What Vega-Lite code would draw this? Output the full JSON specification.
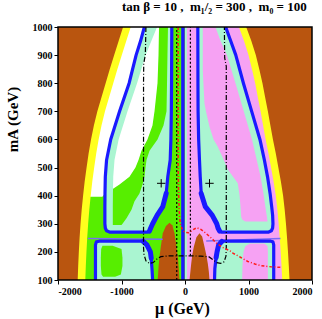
{
  "$schema": "https://vega.github.io/schema/vega-lite/v6.json",
  "width": 254,
  "height": 253,
  "autosize": {"type": "none"},
  "padding": {"left": 58, "top": 27, "right": 10, "bottom": 39},
  "background": "white",
  "title": {"text": "tan β = 10 ,\u00a0 m₁/₂ = 300 ,\u00a0 m₀ = 100", "anchor": "end", "font": "Liberation Serif", "fontSize": 13, "fontWeight": "bold", "color": "black", "offset": 8, "dx": -6},
  "config": {
    "view": {"stroke": null, "fill": "#aaf5d1"},
    "axis": {"labelFont": "Liberation Serif", "labelFontWeight": "bold", "labelFontSize": 10, "labelColor": "black", "titleFont": "Liberation Serif", "titleFontWeight": "bold", "titleColor": "black", "grid": false, "domain": false, "tickColor": "black", "tickSize": 4, "labelPadding": 2, "zindex": 1, "labelOverlap": false},
    "axisY": {"labelOverlap": false},
    "axisLeft": {"labelOverlap": false}
  },
  "encoding": {
    "y": {"field": "mA", "type": "quantitative", "scale": {"domain": [100, 1000], "nice": false, "zero": false}, "axis": {"title": "mA (GeV)", "values": [100, 200, 300, 400, 500, 600, 700, 800, 900, 1000], "labelExpr": "'' + datum.value", "labelOverlap": false, "titleFontSize": 15, "titleAngle": 270, "titleX": -46, "titleY": 92, "titleAlign": "center", "titleBaseline": "middle"}},
    "x": {"field": "a", "type": "quantitative", "scale": {"domain": [-2000, 2000], "nice": false, "zero": false}, "axis": {"title": "μ (GeV)", "values": [-2000, -1000, 0, 1000, 2000], "labelExpr": "'' + datum.value", "labelOverlap": false, "titleFontSize": 16, "titleX": 124, "titleY": 33, "titleAlign": "center", "titleBaseline": "alphabetic"}}
  },
  "layer": [
    {
      "data": {"values": [{"id": "g", "mA": 100, "a": -2000, "b": -50}, {"id": "g", "mA": 1000, "a": -2000, "b": -50}]},
      "mark": {"type": "area", "orient": "horizontal", "color": "#57ee00", "opacity": 1, "clip": true},
      "encoding": {"x2": {"field": "b"}, "detail": {"field": "id"}}
    },
    {
      "data": {"values": [{"id": "p", "mA": 100, "a": 30, "b": 2000}, {"id": "p", "mA": 1000, "a": 30, "b": 2000}]},
      "mark": {"type": "area", "orient": "horizontal", "color": "#f6a2f3", "opacity": 1, "clip": true},
      "encoding": {"x2": {"field": "b"}, "detail": {"field": "id"}}
    },
    {
      "data": {"values": [
        {"id": "UL", "mA": 1000, "a": -640, "b": -208}, {"id": "UL", "mA": 950, "a": -700, "b": -209}, {"id": "UL", "mA": 900, "a": -770, "b": -210}, {"id": "UL", "mA": 800, "a": -880, "b": -212}, {"id": "UL", "mA": 700, "a": -1030, "b": -215}, {"id": "UL", "mA": 600, "a": -1170, "b": -222}, {"id": "UL", "mA": 527, "a": -1235, "b": -233}, {"id": "UL", "mA": 467, "a": -1255, "b": -271}, {"id": "UL", "mA": 408, "a": -1260, "b": -296}, {"id": "UL", "mA": 361, "a": -1262, "b": -350}, {"id": "UL", "mA": 330, "a": -1262, "b": -440}, {"id": "UL", "mA": 300, "a": -1262, "b": -510}, {"id": "UL", "mA": 285, "a": -1255, "b": -540}, {"id": "UL", "mA": 275, "a": -1235, "b": -555}, {"id": "UL", "mA": 270, "a": -1180, "b": -580},
        {"id": "UR", "mA": 1000, "a": 202, "b": 640}, {"id": "UR", "mA": 950, "a": 203, "b": 720}, {"id": "UR", "mA": 900, "a": 203, "b": 800}, {"id": "UR", "mA": 800, "a": 204, "b": 920}, {"id": "UR", "mA": 700, "a": 206, "b": 1050}, {"id": "UR", "mA": 600, "a": 215, "b": 1180}, {"id": "UR", "mA": 527, "a": 228, "b": 1250}, {"id": "UR", "mA": 467, "a": 240, "b": 1300}, {"id": "UR", "mA": 408, "a": 255, "b": 1340}, {"id": "UR", "mA": 361, "a": 320, "b": 1365}, {"id": "UR", "mA": 330, "a": 430, "b": 1380}, {"id": "UR", "mA": 300, "a": 500, "b": 1385}, {"id": "UR", "mA": 285, "a": 520, "b": 1380}, {"id": "UR", "mA": 275, "a": 535, "b": 1360}, {"id": "UR", "mA": 270, "a": 560, "b": 1310},
        {"id": "LL", "mA": 238, "a": -1350, "b": -700}, {"id": "LL", "mA": 236, "a": -1395, "b": -640}, {"id": "LL", "mA": 225, "a": -1410, "b": -600}, {"id": "LL", "mA": 200, "a": -1410, "b": -545}, {"id": "LL", "mA": 178, "a": -1410, "b": -532}, {"id": "LL", "mA": 140, "a": -1410, "b": -520}, {"id": "LL", "mA": 100, "a": -1410, "b": -510},
        {"id": "LR", "mA": 238, "a": 600, "b": 1350}, {"id": "LR", "mA": 236, "a": 560, "b": 1385}, {"id": "LR", "mA": 225, "a": 530, "b": 1397}, {"id": "LR", "mA": 200, "a": 505, "b": 1397}, {"id": "LR", "mA": 180, "a": 490, "b": 1397}, {"id": "LR", "mA": 140, "a": 470, "b": 1397}, {"id": "LR", "mA": 100, "a": 465, "b": 1397}
      ]},
      "mark": {"type": "area", "orient": "horizontal", "color": "#aaf5d1", "opacity": 1, "clip": true},
      "encoding": {"x2": {"field": "b"}, "detail": {"field": "id"}}
    },
    {
      "data": {"values": [
        {"id": "w", "mA": 1000, "a": -2000, "b": -402}, {"id": "w", "mA": 900, "a": -2000, "b": -409}, {"id": "w", "mA": 800, "a": -2000, "b": -425}, {"id": "w", "mA": 700, "a": -2000, "b": -472}, {"id": "w", "mA": 650, "a": -2000, "b": -504}, {"id": "w", "mA": 600, "a": -2000, "b": -583}, {"id": "w", "mA": 560, "a": -2000, "b": -677}, {"id": "w", "mA": 527, "a": -2000, "b": -724}, {"id": "w", "mA": 500, "a": -2000, "b": -772}, {"id": "w", "mA": 467, "a": -2000, "b": -866}, {"id": "w", "mA": 440, "a": -2000, "b": -1024}, {"id": "w", "mA": 410, "a": -2000, "b": -1236}, {"id": "w", "mA": 400, "a": -2000, "b": -1290}, {"id": "w", "mA": 396, "a": -2000, "b": -1300}
      ]},
      "mark": {"type": "area", "orient": "horizontal", "color": "#ffffff", "opacity": 1, "clip": true},
      "encoding": {"x2": {"field": "b"}, "detail": {"field": "id"}}
    },
    {
      "data": {"values": [
        {"id": "L1", "mA": 1000, "a": -409, "b": -268}, {"id": "L1", "mA": 900, "a": -417, "b": -276}, {"id": "L1", "mA": 800, "a": -433, "b": -283}, {"id": "L1", "mA": 700, "a": -480, "b": -291}, {"id": "L1", "mA": 650, "a": -512, "b": -339}, {"id": "L1", "mA": 600, "a": -591, "b": -433}, {"id": "L1", "mA": 560, "a": -685, "b": -559}, {"id": "L1", "mA": 527, "a": -732, "b": -606}, {"id": "L1", "mA": 500, "a": -780, "b": -622}, {"id": "L1", "mA": 467, "a": -874, "b": -638}, {"id": "L1", "mA": 440, "a": -1031, "b": -669}, {"id": "L1", "mA": 408, "a": -1241, "b": -717}, {"id": "L1", "mA": 380, "a": -1252, "b": -795}, {"id": "L1", "mA": 350, "a": -1252, "b": -843}, {"id": "L1", "mA": 320, "a": -1252, "b": -921}, {"id": "L1", "mA": 300, "a": -1252, "b": -984}, {"id": "L1", "mA": 296, "a": -1250, "b": -1000},
        {"id": "L2", "mA": 222, "a": -1300, "b": -1140}, {"id": "L2", "mA": 210, "a": -1320, "b": -1000}, {"id": "L2", "mA": 180, "a": -1325, "b": -985}, {"id": "L2", "mA": 150, "a": -1325, "b": -985}, {"id": "L2", "mA": 120, "a": -1315, "b": -1010}, {"id": "L2", "mA": 112, "a": -1290, "b": -1100}
      ]},
      "mark": {"type": "area", "orient": "horizontal", "color": "#57ee00", "opacity": 1, "clip": true},
      "encoding": {"x2": {"field": "b"}, "detail": {"field": "id"}}
    },
    {
      "data": {"values": [
        {"id": "R1", "mA": 1000, "a": 280, "b": 640}, {"id": "R1", "mA": 900, "a": 280, "b": 800}, {"id": "R1", "mA": 847, "a": 280, "b": 860}, {"id": "R1", "mA": 800, "a": 290, "b": 920}, {"id": "R1", "mA": 728, "a": 307, "b": 1015}, {"id": "R1", "mA": 700, "a": 330, "b": 1050}, {"id": "R1", "mA": 645, "a": 386, "b": 1120}, {"id": "R1", "mA": 600, "a": 450, "b": 1180}, {"id": "R1", "mA": 574, "a": 517, "b": 1210}, {"id": "R1", "mA": 527, "a": 610, "b": 1250}, {"id": "R1", "mA": 491, "a": 680, "b": 1290}, {"id": "R1", "mA": 444, "a": 831, "b": 1326}, {"id": "R1", "mA": 400, "a": 860, "b": 1350}, {"id": "R1", "mA": 360, "a": 875, "b": 1365}, {"id": "R1", "mA": 325, "a": 885, "b": 1380}, {"id": "R1", "mA": 315, "a": 900, "b": 1382}, {"id": "R1", "mA": 308, "a": 950, "b": 1382},
        {"id": "R2", "mA": 230, "a": 1020, "b": 1250}, {"id": "R2", "mA": 220, "a": 950, "b": 1300}, {"id": "R2", "mA": 200, "a": 920, "b": 1305}, {"id": "R2", "mA": 150, "a": 905, "b": 1305}, {"id": "R2", "mA": 100, "a": 900, "b": 1305}
      ]},
      "mark": {"type": "area", "orient": "horizontal", "color": "#f6a2f3", "opacity": 1, "clip": true},
      "encoding": {"x2": {"field": "b"}, "detail": {"field": "id"}}
    },
    {
      "data": {"values": [
        {"id": "BL", "mA": 1000, "a": -640, "b": -440}, {"id": "BL", "mA": 950, "a": -700, "b": -530}, {"id": "BL", "mA": 900, "a": -770, "b": -620}, {"id": "BL", "mA": 800, "a": -880, "b": -755}, {"id": "BL", "mA": 700, "a": -1030, "b": -905}, {"id": "BL", "mA": 600, "a": -1170, "b": -1045}, {"id": "BL", "mA": 527, "a": -1235, "b": -1110}, {"id": "BL", "mA": 467, "a": -1255, "b": -1130}, {"id": "BL", "mA": 408, "a": -1260, "b": -1135}, {"id": "BL", "mA": 361, "a": -1262, "b": -1137}, {"id": "BL", "mA": 296, "a": -1262, "b": -1137},
        {"id": "BR", "mA": 1000, "a": 480, "b": 640}, {"id": "BR", "mA": 950, "a": 560, "b": 720}, {"id": "BR", "mA": 900, "a": 660, "b": 800}, {"id": "BR", "mA": 800, "a": 795, "b": 920}, {"id": "BR", "mA": 700, "a": 925, "b": 1050}, {"id": "BR", "mA": 600, "a": 1055, "b": 1180}, {"id": "BR", "mA": 527, "a": 1130, "b": 1250}, {"id": "BR", "mA": 467, "a": 1190, "b": 1300}, {"id": "BR", "mA": 408, "a": 1235, "b": 1340}, {"id": "BR", "mA": 361, "a": 1265, "b": 1365}, {"id": "BR", "mA": 325, "a": 1290, "b": 1380}, {"id": "BR", "mA": 305, "a": 1300, "b": 1385}
      ]},
      "mark": {"type": "area", "orient": "horizontal", "color": "#aaf5d1", "opacity": 1, "clip": true},
      "encoding": {"x2": {"field": "b"}, "detail": {"field": "id"}}
    },
    {
      "data": {"values": [
        {"id": "L", "mA": 1000, "a": -2000, "b": -855}, {"id": "L", "mA": 950, "a": -2000, "b": -925}, {"id": "L", "mA": 900, "a": -2000, "b": -995}, {"id": "L", "mA": 850, "a": -2000, "b": -1065}, {"id": "L", "mA": 800, "a": -2000, "b": -1130}, {"id": "L", "mA": 750, "a": -2000, "b": -1195}, {"id": "L", "mA": 700, "a": -2000, "b": -1260}, {"id": "L", "mA": 650, "a": -2000, "b": -1315}, {"id": "L", "mA": 600, "a": -2000, "b": -1360}, {"id": "L", "mA": 550, "a": -2000, "b": -1398}, {"id": "L", "mA": 500, "a": -2000, "b": -1430}, {"id": "L", "mA": 450, "a": -2000, "b": -1460}, {"id": "L", "mA": 400, "a": -2000, "b": -1485}, {"id": "L", "mA": 350, "a": -2000, "b": -1507}, {"id": "L", "mA": 300, "a": -2000, "b": -1525}, {"id": "L", "mA": 250, "a": -2000, "b": -1540}, {"id": "L", "mA": 200, "a": -2000, "b": -1552}, {"id": "L", "mA": 150, "a": -2000, "b": -1562}, {"id": "L", "mA": 100, "a": -2000, "b": -1570},
        {"id": "R", "mA": 1000, "a": 849, "b": 2000}, {"id": "R", "mA": 950, "a": 930, "b": 2000}, {"id": "R", "mA": 900, "a": 1000, "b": 2000}, {"id": "R", "mA": 850, "a": 1055, "b": 2000}, {"id": "R", "mA": 800, "a": 1105, "b": 2000}, {"id": "R", "mA": 750, "a": 1147, "b": 2000}, {"id": "R", "mA": 700, "a": 1190, "b": 2000}, {"id": "R", "mA": 650, "a": 1230, "b": 2000}, {"id": "R", "mA": 600, "a": 1270, "b": 2000}, {"id": "R", "mA": 550, "a": 1315, "b": 2000}, {"id": "R", "mA": 500, "a": 1355, "b": 2000}, {"id": "R", "mA": 450, "a": 1395, "b": 2000}, {"id": "R", "mA": 400, "a": 1430, "b": 2000}, {"id": "R", "mA": 350, "a": 1455, "b": 2000}, {"id": "R", "mA": 300, "a": 1475, "b": 2000}, {"id": "R", "mA": 250, "a": 1492, "b": 2000}, {"id": "R", "mA": 200, "a": 1507, "b": 2000}, {"id": "R", "mA": 150, "a": 1520, "b": 2000}, {"id": "R", "mA": 100, "a": 1531, "b": 2000}
      ]},
      "mark": {"type": "area", "orient": "horizontal", "color": "#ffff1e", "opacity": 1, "clip": true},
      "encoding": {"x2": {"field": "b"}, "detail": {"field": "id"}}
    },
    {
      "data": {"values": [
        {"id": "L", "mA": 1000, "a": -2000, "b": -975}, {"id": "L", "mA": 950, "a": -2000, "b": -1045}, {"id": "L", "mA": 900, "a": -2000, "b": -1115}, {"id": "L", "mA": 850, "a": -2000, "b": -1185}, {"id": "L", "mA": 800, "a": -2000, "b": -1250}, {"id": "L", "mA": 750, "a": -2000, "b": -1315}, {"id": "L", "mA": 700, "a": -2000, "b": -1380}, {"id": "L", "mA": 650, "a": -2000, "b": -1435}, {"id": "L", "mA": 600, "a": -2000, "b": -1480}, {"id": "L", "mA": 550, "a": -2000, "b": -1518}, {"id": "L", "mA": 500, "a": -2000, "b": -1550}, {"id": "L", "mA": 450, "a": -2000, "b": -1580}, {"id": "L", "mA": 400, "a": -2000, "b": -1605}, {"id": "L", "mA": 350, "a": -2000, "b": -1627}, {"id": "L", "mA": 300, "a": -2000, "b": -1645}, {"id": "L", "mA": 250, "a": -2000, "b": -1660}, {"id": "L", "mA": 200, "a": -2000, "b": -1672}, {"id": "L", "mA": 150, "a": -2000, "b": -1682}, {"id": "L", "mA": 100, "a": -2000, "b": -1690},
        {"id": "R", "mA": 1000, "a": 964, "b": 2000}, {"id": "R", "mA": 950, "a": 1045, "b": 2000}, {"id": "R", "mA": 900, "a": 1115, "b": 2000}, {"id": "R", "mA": 850, "a": 1170, "b": 2000}, {"id": "R", "mA": 800, "a": 1220, "b": 2000}, {"id": "R", "mA": 750, "a": 1262, "b": 2000}, {"id": "R", "mA": 700, "a": 1305, "b": 2000}, {"id": "R", "mA": 650, "a": 1345, "b": 2000}, {"id": "R", "mA": 600, "a": 1385, "b": 2000}, {"id": "R", "mA": 550, "a": 1430, "b": 2000}, {"id": "R", "mA": 500, "a": 1470, "b": 2000}, {"id": "R", "mA": 450, "a": 1510, "b": 2000}, {"id": "R", "mA": 400, "a": 1545, "b": 2000}, {"id": "R", "mA": 350, "a": 1570, "b": 2000}, {"id": "R", "mA": 300, "a": 1590, "b": 2000}, {"id": "R", "mA": 250, "a": 1607, "b": 2000}, {"id": "R", "mA": 200, "a": 1622, "b": 2000}, {"id": "R", "mA": 150, "a": 1635, "b": 2000}, {"id": "R", "mA": 100, "a": 1646, "b": 2000}
      ]},
      "mark": {"type": "area", "orient": "horizontal", "color": "#b9550f", "opacity": 1, "clip": true},
      "encoding": {"x2": {"field": "b"}, "detail": {"field": "id"}}
    },
    {
      "data": {"values": [
        {"id": "PL", "a": -430, "mA": 100, "base": 100}, {"id": "PL", "a": -415, "mA": 150, "base": 100}, {"id": "PL", "a": -402, "mA": 183, "base": 100}, {"id": "PL", "a": -380, "mA": 220, "base": 100}, {"id": "PL", "a": -350, "mA": 266, "base": 100}, {"id": "PL", "a": -300, "mA": 292, "base": 100}, {"id": "PL", "a": -244, "mA": 304, "base": 100}, {"id": "PL", "a": -200, "mA": 295, "base": 100}, {"id": "PL", "a": -165, "mA": 266, "base": 100}, {"id": "PL", "a": -135, "mA": 220, "base": 100}, {"id": "PL", "a": -113, "mA": 183, "base": 100}, {"id": "PL", "a": -97, "mA": 140, "base": 100}, {"id": "PL", "a": -87, "mA": 100, "base": 100},
        {"id": "PR", "a": 71, "mA": 100, "base": 100}, {"id": "PR", "a": 85, "mA": 130, "base": 100}, {"id": "PR", "a": 98, "mA": 159, "base": 100}, {"id": "PR", "a": 115, "mA": 190, "base": 100}, {"id": "PR", "a": 139, "mA": 218, "base": 100}, {"id": "PR", "a": 180, "mA": 252, "base": 100}, {"id": "PR", "a": 228, "mA": 266, "base": 100}, {"id": "PR", "a": 270, "mA": 255, "base": 100}, {"id": "PR", "a": 307, "mA": 218, "base": 100}, {"id": "PR", "a": 335, "mA": 190, "base": 100}, {"id": "PR", "a": 359, "mA": 159, "base": 100}, {"id": "PR", "a": 375, "mA": 130, "base": 100}, {"id": "PR", "a": 386, "mA": 100, "base": 100}
      ]},
      "mark": {"type": "area", "color": "#b9550f", "opacity": 1, "clip": true},
      "encoding": {"y2": {"field": "base"}, "detail": {"field": "id"}}
    },
    {
      "data": {"values": [
        {"id": "T1", "o": 1, "a": -1530, "mA": 248}, {"id": "T1", "o": 2, "a": -350, "mA": 245},
        {"id": "T2", "o": 1, "a": 334, "mA": 239}, {"id": "T2", "o": 2, "a": 1504, "mA": 248}
      ]},
      "mark": {"type": "line", "color": "#7b6cf6", "strokeWidth": 1.5, "clip": true},
      "encoding": {"order": {"field": "o"}, "detail": {"field": "id"}}
    },
    {
      "data": {"values": [
        {"id": "C", "o": 1, "a": -12, "mA": 100}, {"id": "C", "o": 2, "a": -12, "mA": 1000}
      ]},
      "mark": {"type": "line", "color": "#555555", "strokeWidth": 1, "clip": true},
      "encoding": {"order": {"field": "o"}, "detail": {"field": "id"}}
    },
    {
      "data": {"values": [
        {"id": "C", "o": 1, "a": -35, "mA": 100}, {"id": "C", "o": 2, "a": -35, "mA": 1000},
        {"id": "UL", "o": 1, "a": -640, "mA": 1000}, {"id": "UL", "o": 2, "a": -700, "mA": 950}, {"id": "UL", "o": 3, "a": -770, "mA": 900}, {"id": "UL", "o": 4, "a": -880, "mA": 800}, {"id": "UL", "o": 5, "a": -1030, "mA": 700}, {"id": "UL", "o": 6, "a": -1170, "mA": 600}, {"id": "UL", "o": 7, "a": -1235, "mA": 527}, {"id": "UL", "o": 8, "a": -1255, "mA": 467}, {"id": "UL", "o": 9, "a": -1260, "mA": 408}, {"id": "UL", "o": 10, "a": -1262, "mA": 361}, {"id": "UL", "o": 11, "a": -1262, "mA": 300}, {"id": "UL", "o": 12, "a": -1255, "mA": 285}, {"id": "UL", "o": 13, "a": -1235, "mA": 275}, {"id": "UL", "o": 14, "a": -1180, "mA": 270}, {"id": "UL", "o": 15, "a": -600, "mA": 270}, {"id": "UL", "o": 16, "a": -560, "mA": 274}, {"id": "UL", "o": 17, "a": -540, "mA": 285}, {"id": "UL", "o": 18, "a": -510, "mA": 300}, {"id": "UL", "o": 19, "a": -440, "mA": 330}, {"id": "UL", "o": 20, "a": -350, "mA": 361}, {"id": "UL", "o": 21, "a": -296, "mA": 408}, {"id": "UL", "o": 22, "a": -271, "mA": 467}, {"id": "UL", "o": 23, "a": -233, "mA": 527}, {"id": "UL", "o": 24, "a": -222, "mA": 600}, {"id": "UL", "o": 25, "a": -215, "mA": 700}, {"id": "UL", "o": 26, "a": -212, "mA": 800}, {"id": "UL", "o": 27, "a": -210, "mA": 900}, {"id": "UL", "o": 28, "a": -208, "mA": 1000},
        {"id": "UR", "o": 1, "a": 640, "mA": 1000}, {"id": "UR", "o": 2, "a": 720, "mA": 950}, {"id": "UR", "o": 3, "a": 800, "mA": 900}, {"id": "UR", "o": 4, "a": 920, "mA": 800}, {"id": "UR", "o": 5, "a": 1050, "mA": 700}, {"id": "UR", "o": 6, "a": 1180, "mA": 600}, {"id": "UR", "o": 7, "a": 1250, "mA": 527}, {"id": "UR", "o": 8, "a": 1300, "mA": 467}, {"id": "UR", "o": 9, "a": 1340, "mA": 408}, {"id": "UR", "o": 10, "a": 1365, "mA": 361}, {"id": "UR", "o": 11, "a": 1380, "mA": 330}, {"id": "UR", "o": 12, "a": 1385, "mA": 300}, {"id": "UR", "o": 13, "a": 1380, "mA": 285}, {"id": "UR", "o": 14, "a": 1360, "mA": 275}, {"id": "UR", "o": 15, "a": 1310, "mA": 270}, {"id": "UR", "o": 16, "a": 580, "mA": 270}, {"id": "UR", "o": 17, "a": 545, "mA": 274}, {"id": "UR", "o": 18, "a": 520, "mA": 285}, {"id": "UR", "o": 19, "a": 500, "mA": 300}, {"id": "UR", "o": 20, "a": 430, "mA": 330}, {"id": "UR", "o": 21, "a": 320, "mA": 361}, {"id": "UR", "o": 22, "a": 255, "mA": 408}, {"id": "UR", "o": 23, "a": 240, "mA": 467}, {"id": "UR", "o": 24, "a": 228, "mA": 527}, {"id": "UR", "o": 25, "a": 215, "mA": 600}, {"id": "UR", "o": 26, "a": 206, "mA": 700}, {"id": "UR", "o": 27, "a": 204, "mA": 800}, {"id": "UR", "o": 28, "a": 203, "mA": 900}, {"id": "UR", "o": 29, "a": 202, "mA": 1000},
        {"id": "LL", "o": 1, "a": -1410, "mA": 100}, {"id": "LL", "o": 2, "a": -1410, "mA": 225}, {"id": "LL", "o": 3, "a": -1395, "mA": 236}, {"id": "LL", "o": 4, "a": -1350, "mA": 238}, {"id": "LL", "o": 5, "a": -700, "mA": 238}, {"id": "LL", "o": 6, "a": -640, "mA": 236}, {"id": "LL", "o": 7, "a": -600, "mA": 225}, {"id": "LL", "o": 8, "a": -545, "mA": 200}, {"id": "LL", "o": 9, "a": -532, "mA": 178}, {"id": "LL", "o": 10, "a": -520, "mA": 140}, {"id": "LL", "o": 11, "a": -510, "mA": 100},
        {"id": "LR", "o": 1, "a": 1397, "mA": 100}, {"id": "LR", "o": 2, "a": 1397, "mA": 225}, {"id": "LR", "o": 3, "a": 1385, "mA": 236}, {"id": "LR", "o": 4, "a": 1350, "mA": 238}, {"id": "LR", "o": 5, "a": 600, "mA": 238}, {"id": "LR", "o": 6, "a": 560, "mA": 236}, {"id": "LR", "o": 7, "a": 530, "mA": 225}, {"id": "LR", "o": 8, "a": 505, "mA": 200}, {"id": "LR", "o": 9, "a": 490, "mA": 180}, {"id": "LR", "o": 10, "a": 470, "mA": 140}, {"id": "LR", "o": 11, "a": 465, "mA": 100}
      ]},
      "mark": {"type": "line", "color": "#1a1aff", "strokeWidth": 3.2, "strokeJoin": "round", "clip": true},
      "encoding": {"order": {"field": "o"}, "detail": {"field": "id"}, "strokeWidth": {"condition": {"test": "datum.id === 'C'", "value": 2}, "value": 3.2}}
    },
    {
      "data": {"values": [
        {"id": "a", "o": 1, "a": -560, "mA": 274}, {"id": "a", "o": 2, "a": -540, "mA": 285}, {"id": "a", "o": 3, "a": -510, "mA": 300}, {"id": "a", "o": 4, "a": -440, "mA": 330}, {"id": "a", "o": 5, "a": -350, "mA": 361}, {"id": "a", "o": 6, "a": -296, "mA": 408},
        {"id": "b", "o": 1, "a": 545, "mA": 274}, {"id": "b", "o": 2, "a": 520, "mA": 285}, {"id": "b", "o": 3, "a": 500, "mA": 300}, {"id": "b", "o": 4, "a": 430, "mA": 330}, {"id": "b", "o": 5, "a": 320, "mA": 361}, {"id": "b", "o": 6, "a": 255, "mA": 408},
        {"id": "c", "o": 1, "a": -660, "mA": 237}, {"id": "c", "o": 2, "a": -600, "mA": 225}, {"id": "c", "o": 3, "a": -545, "mA": 200}, {"id": "c", "o": 4, "a": -532, "mA": 178},
        {"id": "d", "o": 1, "a": 580, "mA": 237}, {"id": "d", "o": 2, "a": 530, "mA": 225}, {"id": "d", "o": 3, "a": 505, "mA": 200}, {"id": "d", "o": 4, "a": 490, "mA": 180}
      ]},
      "mark": {"type": "line", "color": "#1a1aff", "strokeWidth": 5, "strokeJoin": "round", "strokeCap": "round", "clip": true},
      "encoding": {"order": {"field": "o"}, "detail": {"field": "id"}}
    },
    {
      "data": {"values": [
        {"id": "D1", "o": 1, "a": -130, "mA": 100}, {"id": "D1", "o": 2, "a": -130, "mA": 1000},
        {"id": "D2", "o": 1, "a": 85, "mA": 186}, {"id": "D2", "o": 2, "a": 85, "mA": 1000}
      ]},
      "mark": {"type": "line", "color": "black", "strokeWidth": 1.2, "strokeDash": [2, 2], "clip": true},
      "encoding": {"order": {"field": "o"}, "detail": {"field": "id"}}
    },
    {
      "data": {"values": [
        {"o": 1, "a": -615, "mA": 1000}, {"o": 2, "a": -625, "mA": 900}, {"o": 3, "a": -650, "mA": 870}, {"o": 4, "a": -653, "mA": 800}, {"o": 5, "a": -653, "mA": 215}, {"o": 6, "a": -645, "mA": 190}, {"o": 7, "a": -615, "mA": 168}, {"o": 8, "a": -560, "mA": 159}, {"o": 9, "a": -500, "mA": 162}, {"o": 10, "a": -440, "mA": 175}, {"o": 11, "a": -380, "mA": 183}, {"o": 12, "a": -250, "mA": 186}, {"o": 13, "a": 70, "mA": 186}, {"o": 14, "a": 250, "mA": 185}, {"o": 15, "a": 380, "mA": 182}, {"o": 16, "a": 440, "mA": 172}, {"o": 17, "a": 500, "mA": 162}, {"o": 18, "a": 560, "mA": 159}, {"o": 19, "a": 615, "mA": 165}, {"o": 20, "a": 645, "mA": 185}, {"o": 21, "a": 650, "mA": 215}, {"o": 22, "a": 650, "mA": 860}, {"o": 23, "a": 625, "mA": 890}, {"o": 24, "a": 620, "mA": 1000}
      ]},
      "mark": {"type": "line", "color": "black", "strokeWidth": 1.2, "strokeDash": [5, 2, 1, 2], "clip": true},
      "encoding": {"order": {"field": "o"}}
    },
    {
      "data": {"values": [
        {"o": 1, "a": -108, "mA": 1000}, {"o": 2, "a": -108, "mA": 500}, {"o": 3, "a": -102, "mA": 420}, {"o": 4, "a": -93, "mA": 350}, {"o": 5, "a": -75, "mA": 300}, {"o": 6, "a": -40, "mA": 278}, {"o": 7, "a": 0, "mA": 270}, {"o": 8, "a": 60, "mA": 268}, {"o": 9, "a": 120, "mA": 278}, {"o": 10, "a": 185, "mA": 286}, {"o": 11, "a": 250, "mA": 280}, {"o": 12, "a": 330, "mA": 266}, {"o": 13, "a": 420, "mA": 248}, {"o": 14, "a": 490, "mA": 232}, {"o": 15, "a": 600, "mA": 215}, {"o": 16, "a": 700, "mA": 205}, {"o": 17, "a": 760, "mA": 195}, {"o": 18, "a": 880, "mA": 180}, {"o": 19, "a": 990, "mA": 166}, {"o": 20, "a": 1100, "mA": 157}, {"o": 21, "a": 1200, "mA": 151}, {"o": 22, "a": 1350, "mA": 147}, {"o": 23, "a": 1515, "mA": 145}
      ]},
      "mark": {"type": "line", "color": "#ff1a1a", "strokeWidth": 1.5, "strokeDash": [3, 2, 1, 2], "clip": true},
      "encoding": {"order": {"field": "o"}}
    },
    {
      "data": {"values": [{"a": -375, "mA": 444}, {"a": 386, "mA": 444}]},
      "mark": {"type": "point", "shape": "M-1,0L1,0M0,-1L0,1", "size": 70, "stroke": "black", "strokeWidth": 1, "filled": false, "opacity": 1}
    },
    {
      "data": {"values": [{"a": -2000, "b": 2000, "mA": 100, "c": 1000}]},
      "mark": {"type": "rect", "fill": null, "stroke": "black", "strokeWidth": 1.5},
      "encoding": {"x2": {"field": "b"}, "y2": {"field": "c"}}
    }
  ]
}
